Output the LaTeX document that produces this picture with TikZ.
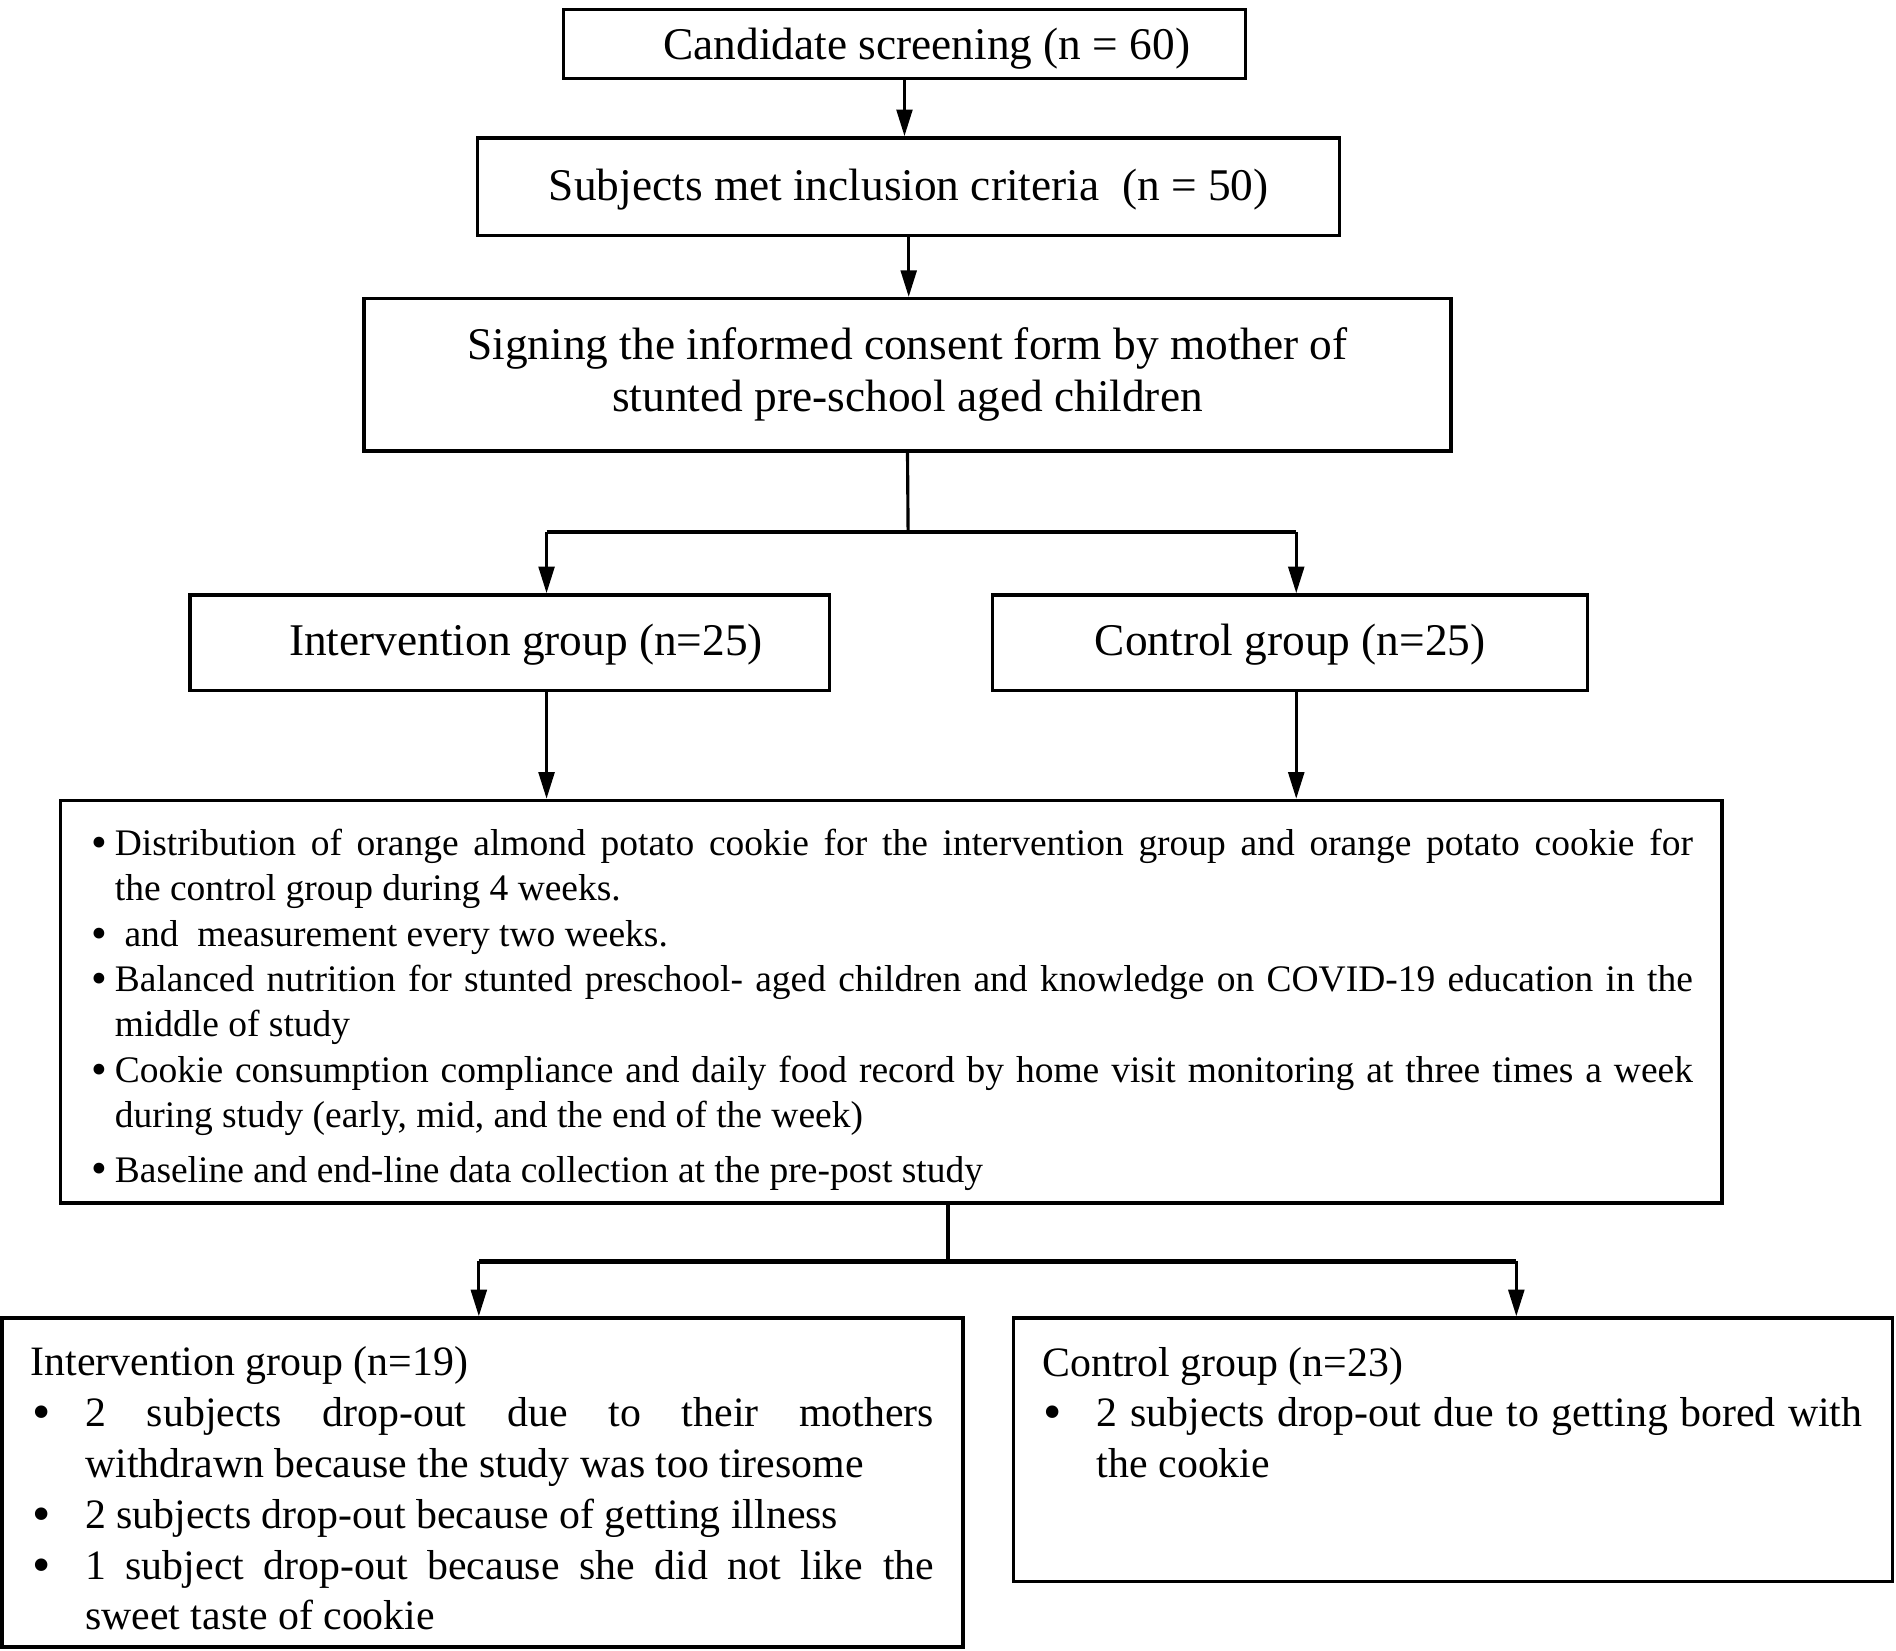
\documentclass[tikz,border=0pt]{standalone}
\usepackage{fontspec}
\usepackage{graphicx}
\setmainfont{Liberation Serif}
\usetikzlibrary{arrows.meta}
\newcommand{\fa}{\fontsize{37.5}{43}\selectfont}
\newcommand{\fb}{\fontsize{31}{37.5}\selectfont}
\newcommand{\fc}{\fontsize{34.6}{42}\selectfont}
\newcommand{\sbul}{\makebox[21pt][l]{\hspace*{2pt}\raisebox{-1.5pt}{\scalebox{1.2}{\textbullet}}}}
\newcommand{\lbul}{\makebox[45pt][l]{\hspace*{1pt}\raisebox{-2.5pt}{\scalebox{1.25}{\textbullet}}}}
\newcommand{\dn}[2]{\raisebox{-#1}[\height][\depth]{#2}}
\begin{document}
\begin{tikzpicture}[x=1pt,y=-1pt,
  box/.style={draw, line width=2.8pt, inner sep=0pt, align=center, font=\fa},
  conn/.style={line width=2.6pt},
  arr/.style={line width=2.6pt,-{Triangle[length=22pt,width=13pt]}},
  bar/.style={line width=4pt}]
\useasboundingbox (0,0) rectangle (1568,1365);

\node[box, minimum width=564pt, minimum height=57pt] (b1) at (748,36.5)
  {\dn{4pt}{\hspace*{37pt}Candidate screening (n = 60)}};
\node[box, minimum width=713pt, minimum height=81pt] (b2) at (751.5,154.5)
  {\dn{2pt}{Subjects met inclusion criteria\ \ (n = 50)}};
\node[box, minimum width=899pt, minimum height=126pt] (b3) at (750.5,310)
  {Signing the informed consent form by mother of\\stunted pre-school aged children};
\node[box, minimum width=529pt, minimum height=79pt] (b4) at (421.5,531.5)
  {\dn{2pt}{\hspace*{27pt}Intervention group (n=25)}};
\node[box, minimum width=492pt, minimum height=79pt] (b5) at (1067,531.5)
  {\dn{2pt}{Control group (n=25)}};
\node[box, minimum width=1374pt, minimum height=333pt, font=\fb] (b6) at (737,828.5)
  {\dn{6.5pt}{\parbox{1326pt}{\fb
  \sbul\makebox[1305pt][s]{Distribution of orange almond potato cookie for the intervention group and orange potato cookie for}\\
  \hspace*{21pt}the control group during 4 weeks.\\
  \sbul\hspace*{8pt}and\ \ measurement every two weeks.\\
  \sbul\makebox[1305pt][s]{Balanced nutrition for stunted preschool- aged children and knowledge on COVID-19 education in the}\\
  \hspace*{21pt}middle of study\\
  \sbul\makebox[1305pt][s]{Cookie consumption compliance and daily food record by home visit monitoring at three times a week}\\
  \hspace*{21pt}during study (early, mid, and the end of the week)\\[7.5pt]
  \sbul Baseline and end-line data collection at the pre-post study}}};
\node[box, minimum width=795pt, minimum height=272pt, font=\fc] (b7) at (399,1226)
  {\dn{5pt}{\parbox{747pt}{\fc
  Intervention group (n=19)\\
  \lbul\makebox[702pt][s]{2 subjects drop-out due to their mothers}\\
  \hspace*{45pt}withdrawn because the study was too tiresome\\
  \lbul 2 subjects drop-out because of getting illness\\
  \lbul\makebox[702pt][s]{1 subject drop-out because she did not like the}\\
  \hspace*{45pt}sweet taste of cookie}}};
\node[box, minimum width=727pt, minimum height=218pt] (b8) at (1201.5,1199) {};
\node[anchor=base west, inner sep=0pt, font=\fc] (t8) at (862,1138)
  {\parbox[t]{678pt}{\fc
  Control group (n=23)\\
  \lbul\makebox[633pt][s]{2 subjects drop-out due to getting bored with}\\
  \hspace*{45pt}the cookie}};

\draw[arr] (b1.south) -- (b1.south |- b2.north);
\draw[arr] (b2.south) -- (b2.south |- b3.north);

\coordinate (s1) at (751,440);
\coordinate (j4) at (452,440);
\coordinate (j5) at (1072,440);
\draw[conn] (b3.south) -- (s1);
\draw[bar] (j4) -- (j5);
\draw[arr] (j4) -- (j4 |- b4.north);
\draw[arr] (j5) -- (j5 |- b5.north);
\draw[arr] (j4 |- b4.south) -- (j4 |- b6.north);
\draw[arr] (j5 |- b5.south) -- (j5 |- b6.north);

\coordinate (s2) at (784,1043);
\coordinate (j7) at (396,1043);
\coordinate (j8) at (1254,1043);
\draw[conn] (s2 |- b6.south) -- (s2);
\draw[bar] (j7) -- (j8);
\draw[arr] (j7) -- (j7 |- b7.north);
\draw[arr] (j8) -- (j8 |- b8.north);
\end{tikzpicture}
\end{document}
